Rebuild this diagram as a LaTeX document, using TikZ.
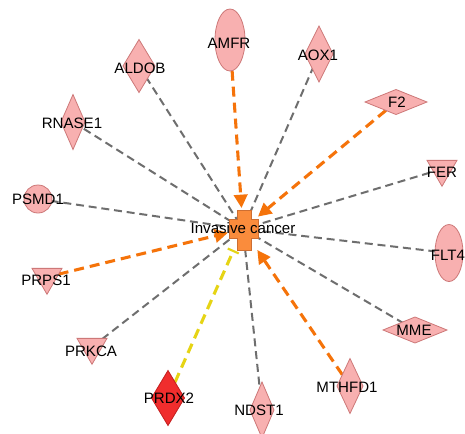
\documentclass[tikz,border=0pt]{standalone}
\usepackage{fontspec}
\setmainfont{Liberation Sans}
\usetikzlibrary{shapes.geometric,arrows.meta}
\definecolor{nodefill}{RGB}{248,176,176}
\definecolor{nodeline}{RGB}{205,120,120}
\definecolor{redfill}{RGB}{240,45,45}
\definecolor{redline}{RGB}{195,30,30}
\definecolor{hubfill}{RGB}{250,140,60}
\definecolor{hubline}{RGB}{205,110,50}
\definecolor{edgegray}{RGB}{110,110,110}
\definecolor{edgeorange}{RGB}{245,115,10}
\definecolor{edgeyellow}{RGB}{230,212,20}
\pgfdeclarelayer{bgwhite}
\pgfdeclarelayer{edges}
\pgfsetlayers{bgwhite,edges,main}
\begin{document}
\begin{tikzpicture}[x=0.75pt,y=-0.75pt,
  sz/.style 2 args={minimum width=#1*0.75pt, minimum height=#2*0.75pt},
  gene/.style={draw=nodeline, fill=nodefill, line width=0.6pt, inner sep=0pt, outer sep=0pt},
  gdiam/.style={gene, diamond},
  gell/.style={gene, ellipse},
  gtri/.style={gene, regular polygon, regular polygon sides=3, shape border rotate=180, minimum size=34.6*0.75pt},
  lbl/.style={font=\fontsize{11.3pt}{13pt}\selectfont, inner sep=0pt, text=black},
  grayedge/.style={draw=edgegray, line width=1.5pt, dash pattern=on 6pt off 3.6pt},
  oredge/.style={draw=edgeorange, line width=2.3pt, dash pattern=on 7.5pt off 4.5pt, -{Triangle[length=10pt,width=10pt]}},
  yedge/.style={draw=edgeyellow, line width=2.3pt, dash pattern=on 7.5pt off 4.5pt, -{Bar[width=9pt,line width=1.6pt]}}
]
\begin{pgfonlayer}{bgwhite}
\fill[white] (0,0) rectangle (465,433);
\end{pgfonlayer}
\useasboundingbox (0,0) rectangle (465,433);

% hub
\node[inner sep=0pt, outer sep=0pt, sz={30}{42}] (hub) at (243,229) {};
\fill[hubfill, draw=hubline, line width=0.6pt]
  (237,210) -- (251,210) -- (251,219) -- (258,219) -- (258,238) -- (251,238)
  -- (251,250) -- (237,250) -- (237,238) -- (229,238) -- (229,219) -- (237,219) -- cycle;

% genes
\node[gell, sz={30}{62}] (amfr) at (230,40) {};
\node[gdiam, sz={32}{53}] (aldob) at (139,66) {};
\node[gdiam, sz={28}{56}] (aox1) at (319,54) {};
\node[gdiam, sz={62}{25}] (f2) at (396,102) {};
\node[gdiam, sz={24}{55}] (rnase1) at (73,122) {};
\node[gell, sz={28}{28}] (psmd1) at (38,199) {};
\node[gtri] (fer) at (442,169) {};
\node[gell, sz={28}{57}] (flt4) at (449,253) {};
\node[gtri] (prps1) at (47,277) {};
\node[gtri] (prkca) at (92,347) {};
\node[gdiam, sz={33}{55}, fill=redfill, draw=redline] (prdx2) at (168,398) {};
\node[gdiam, sz={24}{56}] (ndst1) at (262,410) {};
\node[gdiam, sz={64}{26}] (mme) at (415,330) {};
\node[gdiam, sz={26}{55}] (mthfd1) at (350,386) {};

% edges
\begin{pgfonlayer}{edges}
\foreach \n in {aldob,aox1,rnase1,psmd1,fer,flt4,prkca,ndst1,mme}
  \draw[grayedge] (\n.center) -- (hub.center);
\draw[oredge] (amfr) -- (hub);
\draw[oredge] (f2) -- (hub);
\draw[oredge] (prps1) -- (hub);
\draw[oredge] (mthfd1) -- (hub);
\draw[yedge] (prdx2) -- (hub);
\end{pgfonlayer}

% labels
\node[lbl] (lhub) at (243,228) {Invasive cancer};
\node[lbl] (lamfr) at (229,43) {AMFR};
\node[lbl] (laldob) at (140,68) {ALDOB};
\node[lbl] (laox1) at (318,55) {AOX1};
\node[lbl] (lf2) at (397,102) {F2};
\node[lbl] (lrnase1) at (72,123) {RNASE1};
\node[lbl] (lpsmd1) at (38,199) {PSMD1};
\node[lbl] (lfer) at (442,172) {FER};
\node[lbl] (lflt4) at (448,255) {FLT4};
\node[lbl] (lprps1) at (46,280) {PRPS1};
\node[lbl] (lprkca) at (91,351) {PRKCA};
\node[lbl] (lprdx2) at (169,398) {PRDX2};
\node[lbl] (lndst1) at (259,410) {NDST1};
\node[lbl] (lmme) at (414,330) {MME};
\node[lbl] (lmthfd1) at (347,387) {MTHFD1};
\end{tikzpicture}
\end{document}
